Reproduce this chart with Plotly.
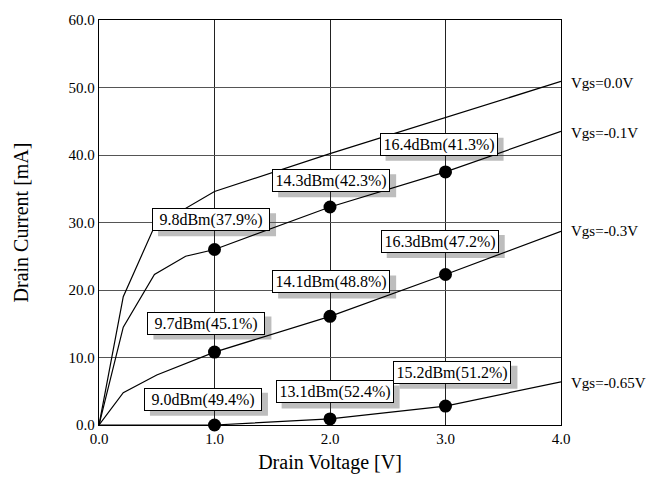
import plotly.graph_objects as go

# ---- data ----
vds_00 = [0.0, 0.21, 0.48, 1.0, 2.0, 3.0, 4.0]
id_00 = [0.0, 19.0, 29.4, 34.6, 40.2, 45.5, 50.9]

vds_01 = [0.0, 0.21, 0.48, 0.75, 1.0, 2.0, 3.0, 4.0]
id_01 = [0.0, 14.5, 22.3, 25.0, 26.0, 32.3, 37.5, 43.5]

vds_03 = [0.0, 0.21, 0.5, 1.0, 2.0, 3.0, 4.0]
id_03 = [0.0, 4.8, 7.4, 10.8, 16.1, 22.3, 28.7]

vds_065 = [0.0, 1.0, 2.0, 3.0, 4.0]
id_065 = [0.0, 0.0, 0.9, 2.8, 6.4]

curve_names = ["Vgs=0.0V", "Vgs=-0.1V", "Vgs=-0.3V", "Vgs=-0.65V"]
curve_label_y = [50.6, 43.3, 28.7, 6.2]

marker_v = [1.0, 2.0, 3.0]
marker_i = {
    "Vgs=-0.1V": [26.0, 32.3, 37.5],
    "Vgs=-0.3V": [10.8, 16.1, 22.3],
    "Vgs=-0.65V": [0.0, 0.9, 2.8],
}

box_text = ["9.8dBm(37.9%)", "14.3dBm(42.3%)", "16.4dBm(41.3%)",
            "9.7dBm(45.1%)", "14.1dBm(48.8%)", "16.3dBm(47.2%)",
            "9.0dBm(49.4%)", "13.1dBm(52.4%)", "15.2dBm(51.2%)"]
box_x = [0.97, 2.01, 2.94, 0.93, 2.01, 2.95, 0.90, 2.04, 3.06]
box_y = [30.4, 36.2, 41.6, 15.1, 21.2, 27.2, 3.8, 4.9, 7.8]

x_ticks = [0, 1, 2, 3, 4]
y_ticks = [0, 10, 20, 30, 40, 50, 60]

FONT = "Liberation Serif, Times New Roman, serif"
BOX_W, BOX_H, PAD = 112, 17, 2
HALF_W = BOX_W / 2 + PAD + 1
HALF_H = BOX_H / 2 + PAD + 1
SH_DX, SH_DY = 6, 5

fig = go.Figure()
for vx, iy in [(vds_00, id_00), (vds_01, id_01), (vds_03, id_03), (vds_065, id_065)]:
    fig.add_trace(go.Scatter(x=vx, y=iy, mode="lines",
                             line=dict(color="black", width=1.2),
                             showlegend=False, hoverinfo="skip"))
for name in ["Vgs=-0.1V", "Vgs=-0.3V", "Vgs=-0.65V"]:
    fig.add_trace(go.Scatter(x=marker_v, y=marker_i[name], mode="markers",
                             marker=dict(color="black", size=13),
                             showlegend=False, cliponaxis=False, hoverinfo="skip"))

shapes = []
for x, y in zip(box_x, box_y):
    shapes.append(dict(type="rect", xref="x", yref="y",
                       xsizemode="pixel", ysizemode="pixel",
                       xanchor=x, yanchor=y,
                       x0=-HALF_W + SH_DX, x1=HALF_W + SH_DX,
                       y0=-HALF_H - SH_DY, y1=HALF_H - SH_DY,
                       fillcolor="#bdbdbd", line=dict(width=0), layer="below"))

annotations = []
for t, x, y in zip(box_text, box_x, box_y):
    annotations.append(dict(x=x, y=y, xref="x", yref="y", text=t, showarrow=False,
                            width=BOX_W, height=BOX_H, align="center", valign="middle",
                            font=dict(family=FONT, size=16, color="black"),
                            bgcolor="white", borderpad=PAD, borderwidth=1,
                            bordercolor="black"))
for name, y in zip(curve_names, curve_label_y):
    annotations.append(dict(x=1, y=y, xref="paper", yref="y", text=name,
                            showarrow=False, xanchor="left", xshift=8,
                            font=dict(family=FONT, size=15, color="black")))

fig.update_layout(
    width=657, height=481,
    margin=dict(l=99, r=96, t=12, b=55),
    paper_bgcolor="white", plot_bgcolor="white",
    font=dict(family=FONT, color="black"),
    annotations=annotations, shapes=shapes,
)
fig.update_xaxes(range=[0, 4], tickvals=x_ticks, tickformat=".1f",
                 showgrid=True, gridcolor="#222", gridwidth=1.3,
                 showline=True, linecolor="black", linewidth=1.3, mirror=True,
                 zeroline=False, ticks="", tickfont=dict(size=15),
                 title=dict(text="Drain Voltage [V]", font=dict(size=20), standoff=8))
fig.update_yaxes(range=[0, 60], tickvals=y_ticks, tickformat=".1f",
                 showgrid=True, gridcolor="#555", gridwidth=1,
                 showline=True, linecolor="black", linewidth=1.3, mirror=True,
                 zeroline=False, ticks="", tickfont=dict(size=15),
                 title=dict(text="Drain Current [mA]", font=dict(size=20), standoff=34))

fig.write_html("out.html")
